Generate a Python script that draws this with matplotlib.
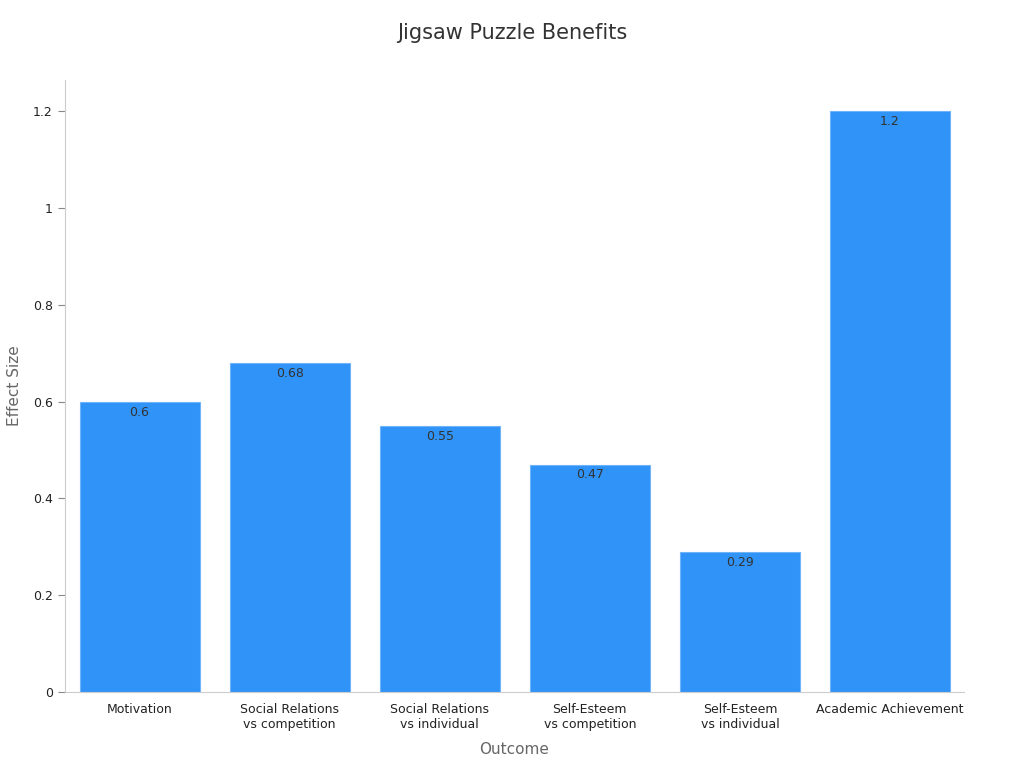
import matplotlib
matplotlib.use("Agg")
import matplotlib.pyplot as plt

categories = ["Motivation", "Social Relations\nvs competition", "Social Relations\nvs individual",
              "Self-Esteem\nvs competition", "Self-Esteem\nvs individual", "Academic Achievement"]
values = [0.6, 0.68, 0.55, 0.47, 0.29, 1.2]
labels = ["0.6", "0.68", "0.55", "0.47", "0.29", "1.2"]
yticks = [0, 0.2, 0.4, 0.6, 0.8, 1.0, 1.2]
yticklabels = ["0", "0.2", "0.4", "0.6", "0.8", "1", "1.2"]

fig = plt.figure(figsize=(10.24, 7.68), dpi=100)
ax = fig.add_axes([0.063, 0.099, 0.878, 0.797])
x = range(len(categories))
bars = ax.bar(x, values, width=0.8, color="#2f93f8", edgecolor="#6fb4f8", linewidth=0.8)
for xi, v, l in zip(x, values, labels):
    ax.text(xi, v - 0.008, l, ha="center", va="top", fontsize=9, color="#333333")
ax.set_xlim(-0.5, 5.49)
ax.set_ylim(0, 1.265)
ax.set_xticks(list(x))
ax.set_xticklabels(categories, fontsize=9, color="#222222")
ax.set_yticks(yticks)
ax.set_yticklabels(yticklabels, fontsize=9, color="#222222")
for s in ["top", "right"]:
    ax.spines[s].set_visible(False)
for s in ["left", "bottom"]:
    ax.spines[s].set_color("#cccccc")
ax.tick_params(colors="#888888", labelcolor="#222222", length=5)
ax.tick_params(axis="x", length=0, pad=8)
ax.set_xlabel("Outcome", fontsize=11, color="#666666", labelpad=8)
ax.set_ylabel("Effect Size", fontsize=11, color="#666666", labelpad=8)
fig.suptitle("Jigsaw Puzzle Benefits", fontsize=15, color="#333333", y=0.97)
fig.savefig("out.png")
